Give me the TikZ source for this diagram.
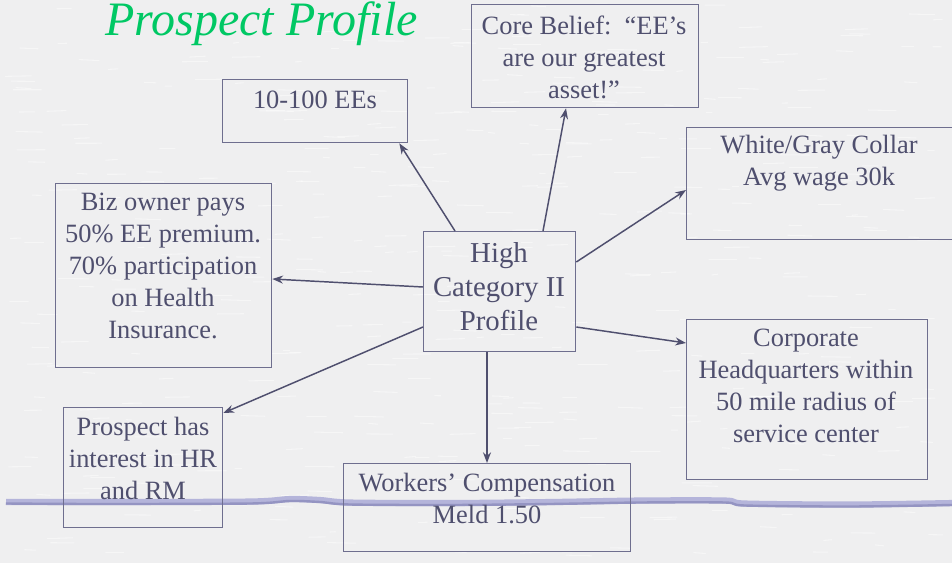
\documentclass[tikz,border=0pt]{standalone}
\usepackage{fontspec}
\setmainfont{Liberation Serif}
\usetikzlibrary{calc,arrows.meta}
\definecolor{paper}{HTML}{EFEFF0}
\definecolor{ink}{HTML}{4F4F6E}
\definecolor{frame}{HTML}{6E6E8E}
\definecolor{titlegreen}{HTML}{00C864}
\definecolor{wavelight}{HTML}{B4B4DA}
\definecolor{wavedark}{HTML}{9494C2}
\newdimen\pxunit
\pxunit=0.75pt
\begin{document}
\begin{tikzpicture}[x=0.75pt,y=-0.75pt,
  box/.style={draw=frame,line width=1pt,inner sep=0pt,anchor=north west},
  txt/.style={text=ink,align=center,inner sep=0pt,font=\fontsize{19.8}{24}\selectfont},
  bigtxt/.style={text=ink,align=center,inner sep=0pt,font=\fontsize{21.6}{25.5}\selectfont},
  link/.style={draw=ink,line width=1.1pt,-{Stealth[length=8pt,width=6pt]}}]
  % paper background with faint streaks
  \fill[paper] (0,0) rectangle (952,563);
  \useasboundingbox (0,0) rectangle (952,563);
  \pgfmathsetseed{7}
  \foreach \i in {1,...,420}{
    \pgfmathsetmacro{\xa}{rnd*930+5}
    \pgfmathsetmacro{\ya}{rnd*555+4}
    \pgfmathsetmacro{\la}{rnd*25+6}
    \draw[white,opacity=0.45,line width=0.8pt] (\xa,\ya) -- ++(\la,rnd*2-1);
  }
  % wavy rule across the lower part: light body with a darker lower edge
  \draw[wavelight,line width=4.6pt]
    plot[smooth,tension=0.5] coordinates {(6,502) (100,502) (250,501.5) (290,499) (320,500) (350,502.5)
      (450,503) (550,502) (640,500.5) (725,500.5) (745,503.5) (850,504.5) (952,503)};
  \draw[wavedark,line width=1.8pt]
    plot[smooth,tension=0.5] coordinates {(6,503.5) (100,504) (250,503.5) (290,501) (320,502) (350,504.5)
      (450,505) (550,504) (640,502.5) (725,502.5) (745,505.5) (850,506.5) (952,505)};

  % title
  \node[anchor=base west,inner sep=0pt,text=titlegreen,font=\fontsize{36}{40}\selectfont\itshape]
    (title) at (105,36) {Prospect Profile};

  % boxes
  \node[box,minimum width=152\pxunit,minimum height=120\pxunit] (hub) at (423,231) {};
  \node[box,minimum width=185\pxunit,minimum height=63\pxunit]  (ees) at (222,79) {};
  \node[box,minimum width=227\pxunit,minimum height=103\pxunit] (core) at (471,4) {};
  \node[box,minimum width=266\pxunit,minimum height=112\pxunit] (collar) at (686,127) {};
  \node[box,minimum width=216\pxunit,minimum height=184\pxunit] (biz) at (55,183) {};
  \node[box,minimum width=241\pxunit,minimum height=160\pxunit] (hq) at (686,319) {};
  \node[box,minimum width=159\pxunit,minimum height=120\pxunit] (hr) at (63,407) {};
  \node[box,minimum width=287\pxunit,minimum height=88\pxunit]  (wc) at (343,463) {};

  % texts
  \node[bigtxt] (hubtext) at (499,287) {High\\Category II\\Profile};
  \node[txt] (eestext) at (315,100) {10-100 EEs};
  \node[txt] (coretext) at (584,57) {Core Belief:\ \ “EE’s\\are our greatest\\asset!”};
  \node[txt] (collartext) at (819,163) {White/Gray Collar\\Avg wage 30k};
  \node[txt] (biztext) at (163,266) {Biz owner pays\\50\% EE premium.\\70\% participation\\on Health\\Insurance.};
  \node[txt] (hqtext) at (806,386) {Corporate\\Headquarters within\\50 mile radius of\\service center};
  \node[txt] (hrtext) at (143,458) {Prospect has\\interest in HR\\and RM};
  \node[txt] (wctext) at (487,499) {Workers’ Compensation\\Meld 1.50};

  % connectors from the hub
  \draw[link] ($(hub.north west)+(32,0)$) -- ($(ees.south east)+(-9,0)$);
  \draw[link] ($(hub.north west)+(120,0)$) -- ($(core.south west)+(95,0)$);
  \draw[link] ($(hub.north east)+(0,31)$) -- ($(collar.north west)+(0,63)$);
  \draw[link] ($(hub.north west)+(0,56)$) -- ($(biz.north east)+(0,96)$);
  \draw[link] ($(hub.north west)+(0,96)$) -- ($(hr.north east)+(0,6)$);
  \draw[link] ($(hub.south west)+(64,0)$) -- ($(wc.north west)+(144,0)$);
  \draw[link] ($(hub.north east)+(0,96)$) -- ($(hq.north west)+(0,24)$);
\end{tikzpicture}
\end{document}
